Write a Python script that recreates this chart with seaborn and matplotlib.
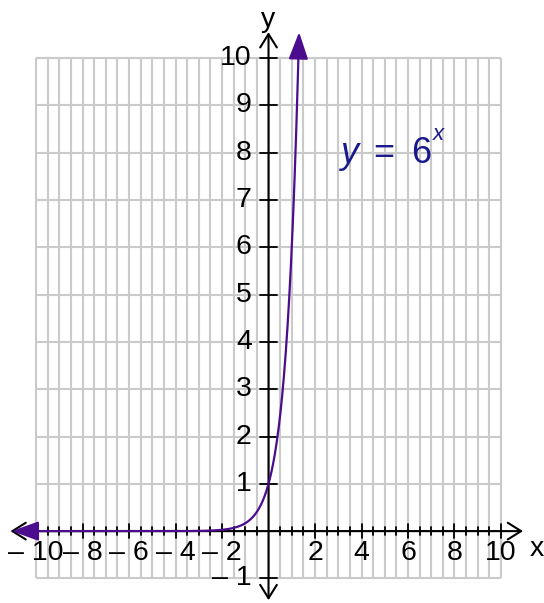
import numpy as np
import pandas as pd
import matplotlib
matplotlib.use("Agg")
import matplotlib.pyplot as plt
import seaborn as sns

# Function and plotting window
base = 6
x_ticks_labeled = [-10, -8, -6, -4, -2, 2, 4, 6, 8, 10]
y_ticks_labeled = [-1, 1, 2, 3, 4, 5, 6, 7, 8, 9, 10]
x_grid = np.arange(-10, 10.01, 0.5)
y_grid = np.arange(-1, 10.01, 1)
x_start, y_end = -11.05, 10.55   # where the arrowheads on the curve point

sns.set_theme(style="white")
plt.rcParams["font.family"] = ["Liberation Sans", "DejaVu Sans"]

curve_color = "#4b0c8e"
eq_color = "#1a1a8c"
grid_color = "#cacaca"
label_size = 20.5

fig = plt.figure(figsize=(5.44, 6.03), dpi=100)
ax = fig.add_axes([0, 0, 1, 1])
ax.set_xlim(-11.55, 11.85)
ax.set_ylim(-1.52, 11.23)
ax.axis("off")

# background grid
ax.vlines(x_grid, -1, 10, color=grid_color, lw=1.5, zorder=1)
ax.hlines(y_grid, -10, 10, color=grid_color, lw=1.5, zorder=1)

# axes with open arrowheads
axis_kw = dict(arrowstyle="<->,head_length=0.48,head_width=0.3", color="black",
               lw=1.5, shrinkA=0, shrinkB=0, mutation_scale=20)
ax.annotate("", xy=(10.95, 0), xytext=(-11.1, 0), arrowprops=axis_kw, zorder=3)
ax.annotate("", xy=(0, 10.55), xytext=(0, -1.46), arrowprops=axis_kw, zorder=3)

# tick marks
for xv in x_grid:
    if xv == 0:
        continue
    h = 0.14 if (xv % 2 == 0) else 0.08
    ax.plot([xv, xv], [-h, h], color="black", lw=1.3, zorder=3)
for yv in y_grid:
    if yv == 0:
        continue
    ax.plot([-0.36, 0.36], [yv, yv], color="black", lw=1.3, zorder=3)

# tick labels
def fmt(v):
    return f"\u2013 {abs(int(v))}" if v < 0 else f"{int(v)}"

for xv in x_ticks_labeled:
    ax.text(xv, -0.46, fmt(xv), ha="center", va="center", fontsize=label_size,
            color="black", zorder=4)
for yv in y_ticks_labeled:
    ax.text(-0.72, yv, fmt(yv), ha="right", va="center", fontsize=label_size,
            color="black", zorder=4)

ax.text(11.55, -0.38, "x", ha="center", va="center", fontsize=label_size, color="black")
ax.text(0, 10.8, "y", ha="center", va="center", fontsize=label_size, color="black")

# the exponential curve
x_end = np.log(y_end) / np.log(base)
xs = np.linspace(-10.1, np.log(10.1) / np.log(base), 600)
df = pd.DataFrame({"x": xs, "y": base ** xs})
sns.lineplot(data=df, x="x", y="y", color=curve_color, lw=1.6, ax=ax, zorder=5,
             sort=False, estimator=None)

head_kw = dict(arrowstyle="-|>,head_length=0.83,head_width=0.3", color=curve_color,
               lw=1.6, shrinkA=0, shrinkB=0, mutation_scale=20)
ax.annotate("", xy=(x_start, base ** x_start), xytext=(-10.05, base ** -10.05),
            arrowprops=head_kw, zorder=6)
x_base_top = np.log(10.0) / np.log(base)
ax.annotate("", xy=(x_end, y_end), xytext=(x_base_top, 10.0),
            arrowprops=head_kw, zorder=6)

# equation label
ax.text(3.075, 7.78, "y", style="italic", fontsize=26, color=eq_color, va="baseline", ha="left")
ax.text(4.5, 7.78, "=", fontsize=26, color=eq_color, va="baseline", ha="left")
ax.text(6.13, 7.78, "6", fontsize=26, color=eq_color, va="baseline", ha="left")
ax.text(7.05, 8.27, "x", style="italic", fontsize=16, color=eq_color, va="baseline", ha="left")

fig.savefig("out.png", dpi=100, facecolor="white")
